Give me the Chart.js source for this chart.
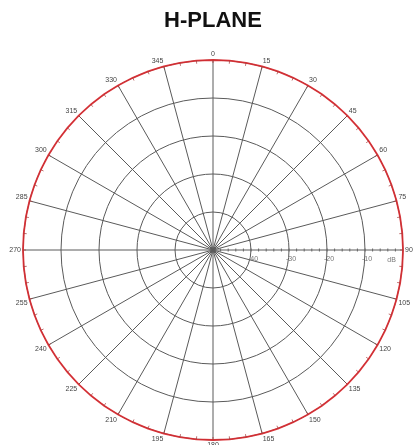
<!DOCTYPE html>
<html>
<head>
<meta charset="utf-8">
<title>H-PLANE</title>
<script src="https://cdn.jsdelivr.net/npm/chart.js@4/dist/chart.umd.min.js"></script>
<style>
  html, body { margin: 0; padding: 0; background: #fff; }
  #wrap { width: 414px; height: 445px; }
</style>
</head>
<body>
<div id="wrap"><canvas id="polarChart"></canvas></div>
<script>
// góc (độ), mỗi 5 độ
const angleLabels = [
  "0", "5", "10", "15", "20", "25", "30", "35", "40", "45", "50", "55",
  "60", "65", "70", "75", "80", "85", "90", "95", "100", "105", "110", "115",
  "120", "125", "130", "135", "140", "145", "150", "155", "160", "165", "170", "175",
  "180", "185", "190", "195", "200", "205", "210", "215", "220", "225", "230", "235",
  "240", "245", "250", "255", "260", "265", "270", "275", "280", "285", "290", "295",
  "300", "305", "310", "315", "320", "325", "330", "335", "340", "345", "350", "355"
];

// nhãn góc hiển thị (mỗi 15 độ)
const shownAngles = [
  "0", "15", "30", "45", "60", "75", "90", "105", "120", "135", "150", "165",
  "180", "195", "210", "225", "240", "255", "270", "285", "300", "315", "330", "345"
];

// mức bức xạ (dB) - gần như tròn đều
const gainValues = [
  0, 0, 0, 0, 0, 0, 0, 0, 0, 0, 0, 0,
  0, 0, 0, 0, 0, 0, 0, 0, 0, 0, 0, 0,
  0, 0, 0, 0, 0, 0, 0, 0, 0, 0, 0, 0,
  0, 0, 0, 0, 0, 0, 0, 0, 0, 0, 0, 0,
  0, 0, 0, 0, 0, 0, 0, 0, 0, 0, 0, 0,
  0, 0, 0, 0, 0, 0, 0, 0, 0, 0, 0, 0
];

// nhãn trục bán kính
const ringTicks = [-40, -30, -20, -10];
const unitLabel = "dB";
const unitAt = -3;

const smallFont = '7px "Liberation Sans", Arial, sans-serif';

// vẽ nhãn, vạch chia
const decorPlugin = {
  id: "decor",
  afterDraw(chart) {
    const r = chart.scales.r;
    const ctx = chart.ctx;
    const R = r.drawingArea;
    ctx.save();

    // vạch nhỏ trên vòng ngoài
    ctx.strokeStyle = "rgba(170,60,60,0.75)";
    ctx.lineWidth = 1;
    angleLabels.forEach((lab, i) => {
      const a = r.getPointPosition(i, R);
      const b = r.getPointPosition(i, R - 3);
      ctx.beginPath();
      ctx.moveTo(a.x, a.y);
      ctx.lineTo(b.x, b.y);
      ctx.stroke();
    });

    // vạch nhỏ trên trục 90
    const idx90 = angleLabels.indexOf("90");
    ctx.strokeStyle = "#666";
    for (let v = r.min + 2; v < r.max; v += 2) {
      const p = r.getPointPosition(idx90, r.getDistanceFromCenterForValue(v));
      ctx.beginPath();
      ctx.moveTo(p.x, p.y - 1.5);
      ctx.lineTo(p.x, p.y + 1.5);
      ctx.stroke();
    }

    // nhãn dB
    ctx.font = smallFont;
    ctx.fillStyle = "#777";
    ctx.textAlign = "center";
    ctx.textBaseline = "middle";
    ringTicks.forEach((v) => {
      const p = r.getPointPosition(idx90, r.getDistanceFromCenterForValue(v));
      ctx.fillText(String(v), p.x + 2, p.y + 9);
    });
    const pu = r.getPointPosition(idx90, r.getDistanceFromCenterForValue(unitAt));
    ctx.fillText(unitLabel, pu.x, pu.y + 10);

    // nhãn góc
    ctx.fillStyle = "#444";
    angleLabels.forEach((lab, i) => {
      if (!shownAngles.includes(lab)) return;
      const ang = (i / angleLabels.length) * Math.PI * 2;
      const s = Math.sin(ang), c = Math.cos(ang);
      const p = r.getPointPosition(i, R + 2);
      ctx.textAlign = s > 0.01 ? "left" : s < -0.01 ? "right" : "center";
      ctx.textBaseline = c > 0.01 ? "bottom" : c < -0.01 ? "top" : "middle";
      ctx.fillText(lab, p.x, p.y);
    });

    ctx.restore();
  }
};

new Chart(document.getElementById("polarChart"), {
  type: "radar",
  data: {
    labels: angleLabels,
    datasets: [
      {
        label: "H-PLANE",
        data: gainValues,
        borderColor: "rgba(218,40,45,0.9)",
        borderWidth: 1.8,
        pointRadius: 0,
        fill: false,
      },
    ],
  },
  options: {
    responsive: true,
    maintainAspectRatio: false,
    animation: false,
    layout: { padding: { left: 23, right: 11, top: 0, bottom: 5 } },
    plugins: {
      legend: { display: false },
      tooltip: { enabled: false },
      title: {
        display: true,
        text: "H-PLANE",
        color: "#111",
        font: { family: '"Liberation Sans", Arial, sans-serif', size: 22, weight: "bold" },
        padding: { top: 8, bottom: 25.6 },
      },
    },
    scales: {
      r: {
        min: -50,
        max: 0,
        ticks: { stepSize: 10, display: false },
        grid: { circular: true, color: "#5a5a5a", lineWidth: 1 },
        angleLines: {
          display: true,
          color: "#5a5a5a",
          lineWidth: (ctx) => (shownAngles.includes(ctx.label) ? 1 : 0),
        },
        pointLabels: { display: false },
      },
    },
  },
  plugins: [decorPlugin],
});
</script>
</body>
</html>
